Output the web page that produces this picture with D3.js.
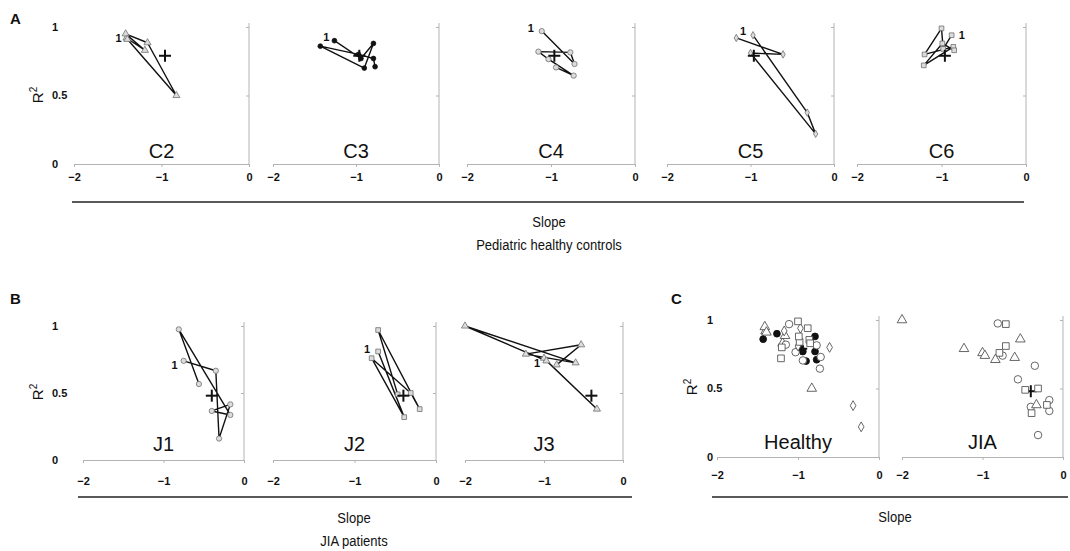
<!DOCTYPE html>
<html lang="en">
<head>
<meta charset="UTF-8">
<title>Slope vs R2 trajectories</title>
<script src="https://d3js.org/d3.v7.min.js"></script>
<style>
  body { margin: 0; background: #fff; font-family: "Liberation Sans", Arial, sans-serif; }
  svg { display: block; }
  .axis path, .axis line { stroke: #b3b3b3; stroke-width: 1; }
  .axis text { font-family: "Liberation Sans", Arial, sans-serif; font-weight: bold; font-size: 11px; fill: #111; }
  .ylab { font-weight: bold; font-size: 11px; fill: #111; }
  .traj { fill: none; stroke: #111; stroke-width: 1.4; stroke-linejoin: round; }
  .mark { fill: #dcdcdc; stroke: #707070; stroke-width: 0.8; }
  .mark.filled { fill: #111; stroke: #111; }
  .big { fill: #fff; stroke: #555; stroke-width: 0.9; }
  .big.filled { fill: #111; stroke: #111; }
  .plus { stroke: #111; stroke-width: 2; }
  .title { font-size: 20px; fill: #111; }
  .first { font-weight: bold; font-size: 11px; fill: #111; }
  .caption { font-family: "Liberation Sans Narrow", "Liberation Sans", Arial, sans-serif; font-size: 15px; fill: #111; }
  .rlab { font-size: 15px; fill: #111; }
  .letter { font-weight: bold; font-size: 15px; fill: #111; }
  .rule { stroke: #222; stroke-width: 1.6; }
</style>
</head>
<body>
<svg id="chart" width="1070" height="551"></svg>
<script>
// slope / R2 pairs per subject, in the order they were recorded
const c2 = [[-1.40, 0.92], [-1.19, 0.83], [-1.41, 0.95], [-1.16, 0.885], [-0.83, 0.50], [-1.39, 0.91]];
const c3 = [[-1.26, 0.90], [-0.94, 0.77], [-0.79, 0.88], [-0.90, 0.70], [-1.43, 0.86], [-0.97, 0.80], [-0.79, 0.77], [-0.77, 0.71]];
const c4 = [[-1.11, 0.97], [-0.72, 0.73], [-0.77, 0.815], [-1.15, 0.82], [-1.03, 0.765], [-0.73, 0.645], [-0.94, 0.705]];
const c5 = [[-0.97, 0.94], [-0.32, 0.375], [-0.22, 0.22], [-1.00, 0.81], [-0.61, 0.80], [-1.17, 0.92]];
const c6 = [[-0.88, 0.94], [-0.98, 0.84], [-1.00, 0.99], [-1.20, 0.80], [-0.86, 0.855], [-1.21, 0.72], [-0.99, 0.88], [-0.85, 0.83]];
const j1 = [[-0.75, 0.74], [-0.35, 0.666], [-0.31, 0.16], [-0.17, 0.415], [-0.40, 0.366], [-0.17, 0.336], [-0.81, 0.975], [-0.56, 0.567]];
const j2 = [[-0.71, 0.81], [-0.39, 0.32], [-0.79, 0.76], [-0.31, 0.50], [-0.20, 0.38], [-0.71, 0.97], [-0.47, 0.49]];
const j3 = [[-1.00, 0.76], [-0.33, 0.38], [-0.97, 0.74], [-2.00, 1.00], [-0.60, 0.725], [-1.23, 0.79], [-0.53, 0.86], [-0.84, 0.71]];

const healthyMean = [-0.96, 0.79];
const jiaMean = [-0.40, 0.48];

const controlNames = ["C2", "C3", "C4", "C5", "C6"];
const patientNames = ["J1", "J2", "J3"];
const xTicks = [-2, -1, 0];
const yTicks = [1, 0.5, 0];

const shapes = {
  C2: "triangle", C3: "dot", C4: "circle", C5: "diamond", C6: "square",
  J1: "circle", J2: "square", J3: "triangle"
};
const series = { C2: c2, C3: c3, C4: c4, C5: c5, C6: c6, J1: j1, J2: j2, J3: j3 };

// where the "1" sits relative to the first point (px)
const firstOffset = {
  C2: [-5, 4], C3: [-5, 0], C4: [-8, 1], C5: [-7, 0], C6: [7, 4],
  J1: [-6, 8], J2: [-8, 2], J3: [-4, 9]
};

const svg = d3.select("#chart");
const symType = { triangle: d3.symbolTriangle, dot: d3.symbolCircle, circle: d3.symbolCircle, diamond: d3.symbolDiamond, square: d3.symbolSquare };

function symbolPath(shape, big) {
  let s = big ? 44 : 22;
  if (shape === "triangle") s = big ? 40 : 22;
  if (shape === "diamond") s = big ? 28 : 16;
  if (shape === "dot") s = big ? 36 : 18;
  return d3.symbol().type(symType[shape]).size(s)();
}

function panel(p) {
  const x = d3.scaleLinear().domain([-2, 0]).range(p.xr);
  const y = d3.scaleLinear().domain([0, 1]).range(p.yr);
  const g = svg.append("g");

  g.append("g").attr("class", "axis")
    .attr("transform", `translate(0,${y(0)})`)
    .call(d3.axisBottom(x).tickValues(xTicks).tickSizeInner(3).tickSizeOuter(0).tickPadding(p.pad).tickFormat(d3.format("d")));

  const ya = g.append("g").attr("class", "axis")
    .attr("transform", `translate(${x(0)},0)`)
    .call(d3.axisLeft(y).tickValues(yTicks).tickSizeInner(3).tickSizeOuter(0).tickFormat(""));
  ya.select(".domain").attr("d", `M0,${y(0)}V${y(1) - 4}`);

  g.append("text").attr("class", "title")
    .attr("x", x(-1)).attr("y", y(0) - p.tdy)
    .attr("text-anchor", "middle").text(p.title);

  const mean = p.mean;
  const drawPlus = () => {
    const px = x(mean[0]), py = y(mean[1]);
    g.append("line").attr("class", "plus").attr("x1", px - 6).attr("x2", px + 6).attr("y1", py).attr("y2", py);
    g.append("line").attr("class", "plus").attr("x1", px).attr("x2", px).attr("y1", py - 6).attr("y2", py + 6);
  };

  if (p.scatter) {
    drawPlus();
    p.names.forEach(n => {
      const shape = shapes[n];
      g.selectAll(null).data(series[n]).join("path")
        .attr("class", "big" + (shape === "dot" ? " filled" : ""))
        .attr("transform", d => `translate(${x(d[0])},${y(d[1])})`)
        .attr("d", symbolPath(shape, true));
    });
  } else {
    const n = p.names[0];
    const pts = series[n];
    const shape = shapes[n];
    g.append("path").attr("class", "traj")
      .attr("d", d3.line().x(d => x(d[0])).y(d => y(d[1]))(pts));
    g.selectAll(null).data(pts).join("path")
      .attr("class", "mark" + (shape === "dot" ? " filled" : ""))
      .attr("transform", d => `translate(${x(d[0])},${y(d[1])})`)
      .attr("d", symbolPath(shape, false));
    const off = firstOffset[n];
    g.append("text").attr("class", "first")
      .attr("x", x(pts[0][0]) + off[0]).attr("y", y(pts[0][1]) + off[1])
      .attr("text-anchor", off[0] < 0 ? "end" : "start").text("1");
    drawPlus();
  }
  return y;
}

function yLabels(yScale, lx) {
  svg.selectAll(null).data(yTicks).join("text")
    .attr("class", "ylab").attr("x", lx).attr("y", d => yScale(d)).attr("dy", "0.35em")
    .text(d => d3.format("")(d));
}

function rLabel(cx, cy) {
  const t = svg.append("text").attr("class", "rlab")
    .attr("transform", `translate(${cx},${cy}) rotate(-90)`).attr("text-anchor", "middle");
  t.append("tspan").text("R");
  t.append("tspan").attr("font-size", "10px").attr("dy", "-6").text("2");
}

// Row A: healthy controls
const aRanges = [[74, 249], [273, 439], [467, 635], [667, 834], [857, 1026]];
let yA;
controlNames.forEach((n, i) => {
  yA = panel({ xr: aRanges[i], yr: [164, 27], pad: 6, tdy: 6, title: n, names: [n], mean: healthyMean });
});
yLabels(yA, 52);
rLabel(43, 95);

// Row B: JIA patients
const bRanges = [[83, 244], [273, 436], [465, 623]];
let yB;
patientNames.forEach((n, i) => {
  yB = panel({ xr: bRanges[i], yr: [460, 326], pad: 14, tdy: 9, title: n, names: [n], mean: jiaMean });
});
yLabels(yB, 52);
rLabel(43, 392);

// Row C: pooled scatter
const yC = panel({ xr: [717, 879], yr: [457, 320], pad: 11, tdy: 8, title: "Healthy", names: controlNames, mean: healthyMean, scatter: true });
panel({ xr: [902, 1063], yr: [457, 320], pad: 11, tdy: 8, title: "JIA", names: patientNames, mean: jiaMean, scatter: true });
yLabels(yC, 707);
rLabel(697, 387);

// rules and captions
svg.append("line").attr("class", "rule").attr("x1", 72).attr("x2", 1024).attr("y1", 202).attr("y2", 202);
svg.append("line").attr("class", "rule").attr("x1", 78).attr("x2", 632).attr("y1", 497).attr("y2", 497);
svg.append("line").attr("class", "rule").attr("x1", 712).attr("x2", 1068).attr("y1", 497).attr("y2", 497);

const captions = [
  ["Slope", 549, 227], ["Pediatric healthy controls", 549, 250],
  ["Slope", 354, 523], ["JIA patients", 354, 546],
  ["Slope", 895, 522]
];
// the original uses a condensed face; squeeze the regular one horizontally
svg.selectAll(null).data(captions).join("text")
  .attr("class", "caption").attr("text-anchor", "middle")
  .attr("transform", d => `translate(${d[1]},${d[2]}) scale(0.87,1)`)
  .text(d => d[0]);

svg.selectAll(null).data([["A", 10, 24], ["B", 10, 304], ["C", 671, 304]]).join("text")
  .attr("class", "letter").attr("x", d => d[1]).attr("y", d => d[2]).text(d => d[0]);
</script>
</body>
</html>
